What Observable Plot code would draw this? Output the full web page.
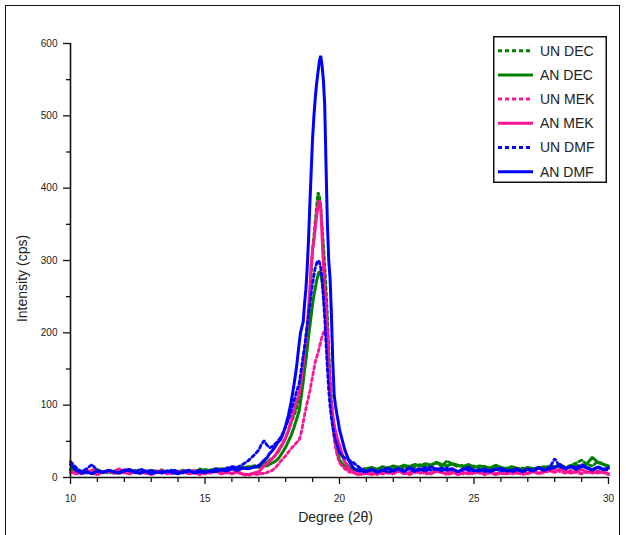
<!DOCTYPE html>
<html>
<head>
<meta charset="utf-8">
<script src="https://cdn.jsdelivr.net/npm/d3@7"></script>
<script src="https://cdn.jsdelivr.net/npm/@observablehq/plot@0.6"></script>
<style>
  html, body { margin: 0; padding: 0; background: #fff; }
  #wrap { position: relative; width: 626px; height: 535px; overflow: hidden; font-family: "Liberation Sans", Arial, sans-serif; }
  #border { position: absolute; left: 5px; top: 5px; width: 615px; height: 545px; border: 1.5px solid #111; box-sizing: border-box; }
  #chart { position: absolute; left: 0; top: 0; }
  #legend { position: absolute; left: 493px; top: 36px; }
</style>
</head>
<body>
<div id="wrap"><div id="border"></div><div id="chart"></div><div id="legend"></div></div>
<script>
// 2θ sample positions (degrees)
const degree = [
  10,10.2,10.4,10.6,10.8,11,11.2,11.4,11.6,11.8,12,12.2,12.4,12.6,12.8,13,13.2,13.4,13.6,13.8,
  14,14.2,14.4,14.6,14.8,15,15.2,15.4,15.6,15.8,16,16.2,16.4,16.6,16.8,
  17,17.1,17.2,17.3,17.4,17.5,17.6,17.7,17.8,17.9,18,18.1,18.2,18.3,18.4,
  18.5,18.55,18.6,18.65,18.7,18.75,18.8,18.85,18.9,18.95,19,19.05,19.1,19.15,19.2,19.25,19.3,19.35,19.4,19.45,
  19.5,19.55,19.6,19.65,19.7,19.75,19.8,19.85,19.9,19.95,
  20,20.1,20.2,20.3,20.4,20.5,20.6,20.7,20.8,20.9,
  21,21.2,21.4,21.6,21.8,22,22.2,22.4,22.6,22.8,23,23.2,23.4,23.6,23.8,24,24.2,24.4,24.6,24.8,
  25,25.2,25.4,25.6,25.8,26,26.2,26.4,26.6,26.8,27,27.2,27.4,27.6,27.8,28,28.2,28.4,28.6,28.8,
  29,29.2,29.4,29.6,29.8,30
];

const unDEC = [
  12,8,6,9,7,10,8,6,9,11, 7,8,10,6,9,7,8,11,6,9, 8,7,10,8,12,9,11,10,13,11, 12,14,13,15,16,
  17,18,20,22,24,27,30,34,40,47, 55,64,75,85,95,
  112,125,140,158,175,192,205,225,250,280, 315,335,355,375,394,390,375,350,325,295,
  262,225,180,140,110,88,72,60,50,42,
  36,28,22,17,14,12,11,9,12,10,
  11,9,13,10,14,12,15,13,16,14, 18,15,17,20,16,23,18,15,17,14, 16,13,15,12,14,11,13,12,10,13,
  11,12,14,13,16,15,18,14,17,20, 24,18,16,22,19,15
];
const anDEC = [
  10,7,9,6,8,11,7,9,6,8, 10,7,9,8,6,10,8,7,9,6, 8,10,7,9,8,11,9,12,10,11, 13,12,14,13,15,
  14,15,17,16,18,20,22,25,30,36, 42,50,58,68,80,
  92,105,118,132,148,162,178,195,210,225, 240,252,262,272,280,285,282,272,255,232,
  205,175,145,115,92,75,60,48,38,30,
  24,19,15,13,11,12,10,11,9,12,
  12,14,11,15,13,16,14,17,15,18, 16,19,17,21,18,16,19,17,15,18, 14,16,15,13,17,14,12,15,13,11,
  14,12,13,15,12,14,16,13,15,17, 14,19,28,21,18,16
];
const unMEK = [
  6,9,5,7,11,8,6,10,7,5, 9,12,6,8,5,7,10,6,8,5, 9,7,6,10,8,5,7,9,6,8, 5,7,4,3,5,
  4,6,5,7,8,10,13,17,22,26, 30,35,40,44,48,
  52,58,66,76,86,95,104,111,120,130, 140,150,160,166,172,180,187,195,200,203,
  195,175,150,120,92,70,54,42,33,26,
  20,16,12,9,7,8,5,6,4,7,
  5,7,4,8,6,5,9,6,4,7, 8,5,6,9,7,4,6,8,5,7, 9,6,4,7,5,8,6,5,7,4,
  6,8,5,7,9,12,8,6,10,7, 5,8,6,9,7,4
];
const anMEK = [
  8,5,7,10,6,4,8,9,6,12, 7,5,8,6,9,4,7,10,5,8, 6,9,5,7,4,8,6,9,5,7, 6,8,5,4,6,
  8,12,16,19,22,26,30,36,42,48, 55,65,78,92,105,
  115,128,142,158,175,192,208,235,262,295, 315,328,345,362,375,383,375,335,295,262,
  235,200,160,120,100,85,72,64,56,50,
  45,32,22,15,10,7,6,4,6,5,
  6,4,7,5,8,6,9,5,7,10, 6,8,5,9,7,6,8,4,7,5, 6,8,5,7,4,6,5,8,6,7,
  5,9,6,8,10,7,12,9,6,8, 11,7,9,6,8,5
];
const unDMF = [
  22,14,8,12,18,9,7,10,8,6, 11,9,7,12,8,10,6,9,7,11, 8,6,9,7,10,8,9,12,10,13, 15,14,18,23,30,
  38,46,51,45,41,43,46,50,55,62, 70,80,92,105,118,
  130,142,155,168,180,195,210,225,240,255, 268,280,290,296,300,298,290,275,250,220,
  185,150,120,98,82,70,60,52,46,40,
  35,30,27,25,23,21,18,15,12,10,
  9,12,8,11,7,10,13,9,12,8, 11,14,10,12,9,13,11,8,12,10, 9,11,8,10,12,9,11,8,10,9,
  12,10,14,11,13,26,15,12,16,13, 18,14,11,15,12,10
];
const anDMF = [
  18,10,6,8,5,9,7,10,8,6, 9,11,7,6,9,5,8,6,9,7, 5,8,10,6,8,7,9,8,11,9, 12,10,13,12,14,
  16,20,24,27,33,37,42,48,52,60, 72,86,104,126,152,
  185,200,208,215,240,260,290,330,380,425, 470,500,525,545,560,575,583,570,550,515,
  430,350,300,275,225,160,115,100,88,78,
  66,52,38,28,20,14,11,9,10,8,
  8,11,7,10,13,9,12,8,14,10, 12,9,15,11,13,10,12,8,11,14, 10,9,12,8,11,13,9,10,12,8,
  11,9,13,10,12,14,18,12,15,11, 16,13,10,14,11,13
];

const seriesNames = ["UN DEC", "AN DEC", "UN MEK", "AN MEK", "UN DMF", "AN DMF"];
const seriesValues = [unDEC, anDEC, unMEK, anMEK, unDMF, anDMF];
const seriesColors = ["#008000", "#008000", "#ff1493", "#ff1493", "#0000ff", "#0000ff"];
const seriesDashed = [true, false, true, false, true, false];

const xMajorTicks = [10, 15, 20, 25, 30];
const xMinorTicks = [11,12,13,14,16,17,18,19,21,22,23,24,26,27,28,29];
const yMajorTicks = [0, 100, 200, 300, 400, 500, 600];
const yMinorTicks = [50, 150, 250, 350, 450, 550];

const lineMarks = seriesNames.map((name, k) => {
  const vals = seriesValues[k];
  const data = degree.map((d, i) => ({x: d, y: vals[i]})).filter(d => d.y != null);
  return Plot.line(data, {
    x: "x", y: "y",
    stroke: seriesColors[k],
    strokeWidth: seriesDashed[k] ? 2.8 : 3,
    strokeDasharray: seriesDashed[k] ? "3,3" : null,
    strokeLinejoin: "miter"
  });
});

const chart = Plot.plot({
  width: 626,
  height: 535,
  marginLeft: 70,
  marginRight: 18,
  marginTop: 43,
  marginBottom: 58,
  style: {fontFamily: "'Liberation Sans', Arial, sans-serif", color: "#222", background: "transparent", overflow: "visible"},
  x: {domain: [10, 30]},
  y: {domain: [0, 600]},
  marks: [
    ...lineMarks,
    Plot.axisX(xMajorTicks, {tickSize: 7, tickPadding: 10, fontSize: 10, strokeWidth: 1.3, stroke: "#111", label: null}),
    Plot.axisX(xMinorTicks, {tickSize: 5, strokeWidth: 1.3, stroke: "#111", text: null, label: null}),
    Plot.axisY(yMajorTicks, {tickSize: 7, tickPadding: 6, fontSize: 10, strokeWidth: 1.3, stroke: "#111", label: null}),
    Plot.axisY(yMinorTicks, {tickSize: 4, strokeWidth: 1.3, stroke: "#111", text: null, label: null}),
    Plot.ruleY([0], {stroke: "#111", strokeWidth: 1.6}),
    Plot.ruleX([10], {stroke: "#111", strokeWidth: 1.6}),
    Plot.text(["Degree (2θ)"], {frameAnchor: "bottom", dy: 44, dx: -4, fontSize: 14, fill: "#222"}),
    Plot.text(["Intensity (cps)"], {frameAnchor: "left", textAnchor: "middle", dx: -48, dy: 18, rotate: -90, fontSize: 14, fill: "#222"})
  ]
});
document.getElementById("chart").appendChild(chart);

// Legend
const lw = 114, lh = 147;
const leg = d3.select("#legend").append("svg").attr("width", lw).attr("height", lh)
  .style("font-family", "'Liberation Sans', Arial, sans-serif");
leg.append("rect").attr("x", 0.75).attr("y", 0.75).attr("width", lw - 1.5).attr("height", lh - 1.5)
  .attr("fill", "#fff").attr("stroke", "#111").attr("stroke-width", 1.5);
seriesNames.forEach((name, k) => {
  const cy = 14.7 + k * 24.2;
  leg.append("line").attr("x1", 5).attr("x2", 40).attr("y1", cy).attr("y2", cy)
    .attr("stroke", seriesColors[k]).attr("stroke-width", 3)
    .attr("stroke-dasharray", seriesDashed[k] ? "4,3" : null);
  leg.append("text").attr("x", 47).attr("y", cy).attr("dy", "0.35em")
    .attr("font-size", 14).attr("fill", "#222").text(name);
});
</script>
</body>
</html>
